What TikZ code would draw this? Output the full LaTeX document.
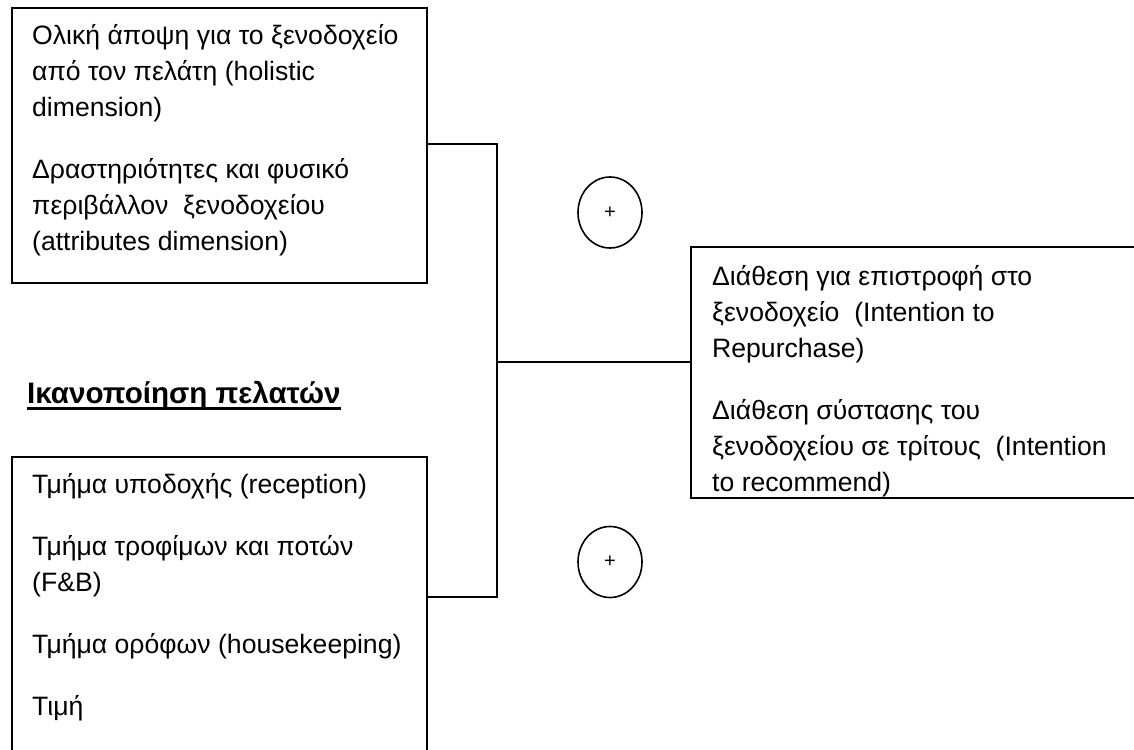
\documentclass[tikz,border=0pt]{standalone}
\usepackage{fontspec}
\setmainfont{Liberation Sans}
\usetikzlibrary{shapes.geometric}
\tikzset{
  box/.style={draw, line width=1.8pt, rectangle, inner sep=0pt, outer sep=0pt, anchor=north west},
  body/.style={anchor=north west, inner sep=0pt, align=left, font=\fontsize{26.6}{36}\selectfont},
  wire/.style={line width=1.8pt},
  sign/.style={draw, ellipse, inner sep=0pt, minimum width=64pt, minimum height=71pt,
               line width=1.6pt, font=\fontsize{20}{22}\selectfont},
  heading/.style={anchor=base west, inner sep=0pt, font=\fontsize{29.6}{32}\selectfont\bfseries}
}
\begin{document}
\begin{tikzpicture}[x=1pt, y=-1pt]
  \clip (0,0) rectangle (1134,749);
  \fill[white] (0,0) rectangle (1134,749);

  % boxes
  \node[box, minimum width=415pt, minimum height=275pt] (holistic) at (12,8) {};
  \node[box, minimum width=460pt, minimum height=251pt] (intent) at (691,247) {};
  \node[box, minimum width=415pt, minimum height=320pt] (service) at (12,457) {};

  % box texts
  \node[body] (holtext) at (32,18.8) {\strut Ολική άποψη για το ξενοδοχείο\\
    από τον πελάτη (holistic\\
    dimension)\\[26pt]
    Δραστηριότητες και φυσικό\\
    περιβάλλον\ \ ξενοδοχείου\\
    (attributes dimension)};

  \node[body] (inttext) at (712,259.8) {\strut Διάθεση για επιστροφή στο\\
    ξενοδοχείο\ \ (Intention to\\
    Repurchase)\\[26pt]
    Διάθεση σύστασης του\\
    ξενοδοχείου σε τρίτους\ \ (Intention\\
    to recommend)};

  \node[body] (sertext) at (32,467.8) {\strut Τμήμα υποδοχής (reception)\\[26pt]
    Τμήμα τροφίμων και ποτών\\
    (F\&B)\\[26pt]
    Τμήμα ορόφων (housekeeping)\\[26pt]
    Τιμή};

  % heading
  \node[heading] (title) at (27,403) {Ικανοποίηση πελατών};
  \draw[line width=2.8pt] ([yshift=-5.5pt]title.base west) -- ([yshift=-5.5pt]title.base east);

  % connectors
  \coordinate (top) at (497,144);
  \coordinate (spine) at (497,362);
  \coordinate (bottom) at (497,597);
  \draw[wire] (holistic.east |- top) -- (top) -- (bottom) -- (bottom -| service.east);
  \draw[wire] (spine) -- (spine -| intent.west);

  % signs
  \node[sign] (plus1) at (610,212.5) {+};
  \node[sign] (plus2) at (610,562) {+};
\end{tikzpicture}
\end{document}
